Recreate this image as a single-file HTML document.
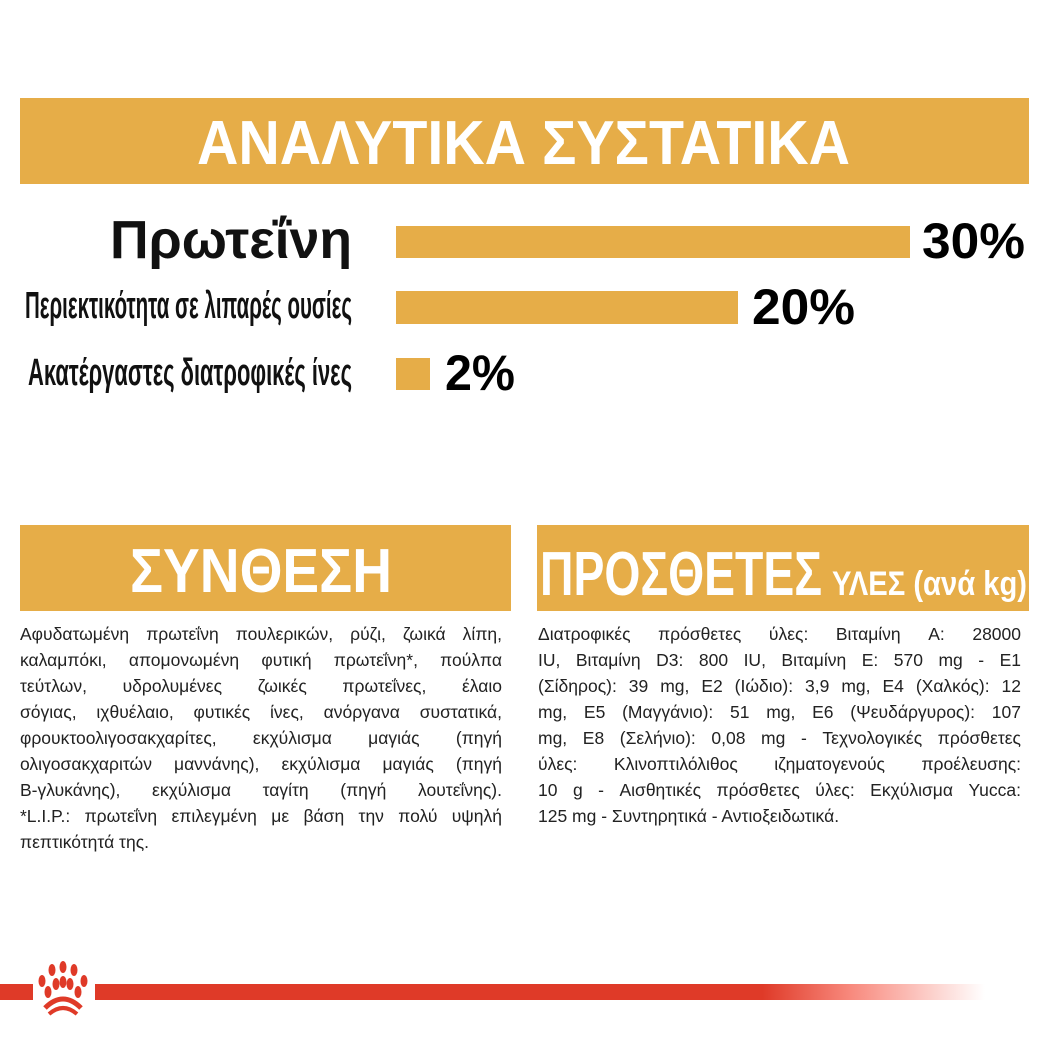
<!DOCTYPE html>
<html><head><meta charset="utf-8"><style>
body{margin:0;width:1049px;height:1049px;background:#fff;position:relative;overflow:hidden;font-family:"Liberation Sans","DejaVu Sans",sans-serif}
.a{position:absolute}
.band{background:#e6ad48;position:absolute}
.bar{background:#e6ad48;position:absolute}
.p{position:absolute;font-size:17.5px;line-height:26px;color:#222;width:482px}
.p div{text-align:justify;text-align-last:justify;white-space:nowrap;overflow:visible}
.p div.l{text-align-last:left}
svg text{font-family:"Liberation Sans","DejaVu Sans",sans-serif;font-weight:bold}
</style></head><body>
<div class="band" style="left:20px;top:98px;width:1009px;height:86px"></div>
<div class="bar" style="left:396px;top:226px;width:514px;height:32px"></div>
<div class="bar" style="left:396px;top:291px;width:342px;height:33px"></div>
<div class="bar" style="left:396px;top:358px;width:34px;height:32px"></div>
<div class="band" style="left:20px;top:525px;width:491px;height:86px"></div>
<div class="band" style="left:537px;top:525px;width:492px;height:86px"></div>
<svg class="a" style="left:0;top:0" width="1049" height="1049">
<text x="197" y="164" font-size="62" fill="#fff" textLength="653" lengthAdjust="spacingAndGlyphs">ΑΝΑΛΥΤΙΚΑ ΣΥΣΤΑΤΙΚΑ</text>
<text x="110" y="258" font-size="54" fill="#111" textLength="242" lengthAdjust="spacingAndGlyphs">Πρωτεΐνη</text>
<text x="25" y="318" font-size="38" fill="#111" textLength="327" lengthAdjust="spacingAndGlyphs">Περιεκτικότητα σε λιπαρές ουσίες</text>
<text x="28" y="385" font-size="38" fill="#111" textLength="324" lengthAdjust="spacingAndGlyphs">Ακατέργαστες διατροφικές ίνες</text>
<text x="922" y="258" font-size="50" fill="#000" textLength="103" lengthAdjust="spacingAndGlyphs">30%</text>
<text x="752" y="324" font-size="50" fill="#000" textLength="103" lengthAdjust="spacingAndGlyphs">20%</text>
<text x="445" y="390" font-size="50" fill="#000" textLength="70" lengthAdjust="spacingAndGlyphs">2%</text>
<text x="130" y="592" font-size="62" fill="#fff" textLength="262" lengthAdjust="spacingAndGlyphs">ΣΥΝΘΕΣΗ</text>
<text x="540" y="595" font-size="62" fill="#fff" textLength="282" lengthAdjust="spacingAndGlyphs">ΠΡΟΣΘΕΤΕΣ</text>
<text x="832" y="595" font-size="34" fill="#fff" textLength="195" lengthAdjust="spacingAndGlyphs">ΥΛΕΣ (ανά kg)</text>
</svg>
<div class="p" style="left:20px;top:621px">
<div>Αφυδατωμένη πρωτεΐνη πουλερικών, ρύζι, ζωικά λίπη,</div>
<div>καλαμπόκι, απομονωμένη φυτική πρωτεΐνη*, πούλπα</div>
<div>τεύτλων, υδρολυμένες ζωικές πρωτεΐνες, έλαιο</div>
<div>σόγιας, ιχθυέλαιο, φυτικές ίνες, ανόργανα συστατικά,</div>
<div>φρουκτοολιγοσακχαρίτες, εκχύλισμα μαγιάς (πηγή</div>
<div>ολιγοσακχαριτών μαννάνης), εκχύλισμα μαγιάς (πηγή</div>
<div>Β-γλυκάνης), εκχύλισμα ταγίτη (πηγή λουτεΐνης).</div>
<div>*L.I.P.: πρωτεΐνη επιλεγμένη με βάση την πολύ υψηλή</div>
<div class="l">πεπτικότητά της.</div>
</div>
<div class="p" style="left:538px;top:621px;width:483px">
<div>Διατροφικές πρόσθετες ύλες: Βιταμίνη A: 28000</div>
<div>IU, Βιταμίνη D3: 800 IU, Βιταμίνη E: 570 mg - E1</div>
<div>(Σίδηρος): 39 mg, E2 (Ιώδιο): 3,9 mg, E4 (Χαλκός): 12</div>
<div>mg, E5 (Μαγγάνιο): 51 mg, E6 (Ψευδάργυρος): 107</div>
<div>mg, E8 (Σελήνιο): 0,08 mg - Τεχνολογικές πρόσθετες</div>
<div>ύλες: Κλινοπτιλόλιθος ιζηματογενούς προέλευσης:</div>
<div>10 g - Αισθητικές πρόσθετες ύλες: Εκχύλισμα Yucca:</div>
<div class="l">125 mg - Συντηρητικά - Αντιοξειδωτικά.</div>
</div>
<div class="a" style="left:0;top:984px;width:33px;height:16px;background:#df3a28"></div>
<div class="a" style="left:95px;top:984px;width:890px;height:16px;background:linear-gradient(to right,#df3a28 0%,#df3a28 75%,#f88a7e 85%,#fff 100%)"></div>
<svg class="a" style="left:33px;top:958px" width="62" height="60" viewBox="0 0 62 60">
<g fill="#df3a28">
<ellipse cx="30" cy="9" rx="3.5" ry="6"/><ellipse cx="19" cy="12" rx="3.5" ry="6"/><ellipse cx="41" cy="12" rx="3.5" ry="6"/>
<ellipse cx="9" cy="23" rx="3.5" ry="6"/><ellipse cx="51" cy="23" rx="3.5" ry="6"/>
<ellipse cx="23" cy="26" rx="3.5" ry="6"/><ellipse cx="37" cy="26" rx="3.5" ry="6"/><ellipse cx="30" cy="24" rx="3.5" ry="6"/>
<ellipse cx="15" cy="34" rx="3.5" ry="6"/><ellipse cx="45" cy="34" rx="3.5" ry="6"/>
</g>
<path d="M12 50 Q30 32 48 50" stroke="#df3a28" stroke-width="5" fill="none"/>
<path d="M16 56 Q30 44 44 56" stroke="#df3a28" stroke-width="4" fill="none"/>
</svg>
</body></html>
